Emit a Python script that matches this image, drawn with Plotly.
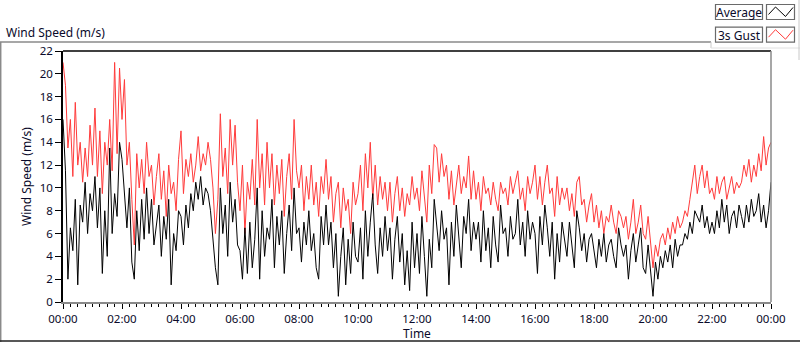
import plotly.graph_objects as go
import pandas as pd

# 5-minute samples, 00:00 .. 24:00
gust = [
 21.0, 19.0, 13.5, 16.0, 11.0, 17.5, 12.0, 14.0, 10.5, 13.5, 11.0, 15.5,
 12.0, 17.0, 11.0, 15.0, 9.5, 14.0, 12.0, 16.0, 11.5, 21.0, 13.0, 20.5,
 16.0, 19.5, 12.0, 14.0, 9.0, 5.0, 13.0, 10.0, 12.5, 9.5, 14.0, 11.0,
 12.0, 8.5, 11.0, 13.0, 9.0, 11.5, 7.5, 12.0, 9.5, 10.5, 8.0, 12.5,
 15.0, 9.5, 12.5, 11.0, 13.0, 10.5, 12.0, 14.5, 11.5, 13.0, 12.0, 14.0,
 12.5, 10.0, 6.0, 9.0, 16.5, 11.0, 13.5, 9.5, 16.0, 12.0, 15.5, 10.5,
 8.0, 12.0, 6.0, 10.5, 9.0, 12.5, 8.5, 16.0, 10.0, 13.0, 8.5, 14.0,
 10.0, 13.0, 8.5, 12.0, 9.5, 12.5, 7.5, 11.0, 13.0, 9.0, 16.0, 11.5,
 10.0, 12.0, 8.0, 11.0, 9.0, 12.0, 8.5, 10.5, 7.5, 11.0, 9.5, 12.5,
 9.0, 11.0, 7.0, 9.5, 10.5, 6.5, 10.0, 8.0, 9.0, 6.0, 10.5, 8.5,
 9.5, 12.0, 8.0, 13.0, 10.0, 14.0, 9.0, 12.0, 8.5, 11.0, 9.0, 10.5,
 8.0, 10.5, 7.0, 9.5, 11.0, 8.0, 10.0, 7.5, 9.5, 8.5, 11.0, 9.0,
 10.0, 8.0, 11.5, 9.0, 7.0, 12.0, 9.5, 13.8, 13.5, 10.5, 13.0, 11.0,
 12.0, 9.0, 11.5, 8.5, 10.5, 12.0, 9.5, 11.0, 10.0, 12.8, 9.0, 11.5,
 9.0, 10.5, 8.0, 11.0, 9.5, 10.0, 8.5, 10.5, 9.0, 8.0, 10.5, 9.5,
 10.0, 8.5, 11.0, 9.5, 10.5, 11.5, 9.0, 10.0, 8.0, 11.0, 9.5, 10.5,
 12.0, 9.0, 11.0, 8.5, 10.5, 12.0, 9.5, 10.0, 7.5, 11.0, 8.5, 10.0,
 9.0, 10.0, 8.0, 9.5, 7.5, 10.5, 11.0, 8.5, 9.0, 7.0, 8.5, 9.5,
 7.0, 8.5, 6.5, 8.0, 6.0, 7.5, 7.0, 8.5, 7.0, 6.0, 8.0, 7.5,
 6.5, 7.5, 5.5, 7.0, 9.0, 6.0, 7.0, 8.5, 6.0, 5.5, 7.5, 5.0,
 3.0, 5.0, 4.0, 5.5, 6.0, 5.0, 6.5, 5.5, 7.0, 6.0, 7.5, 6.5,
 7.0, 8.0, 7.5, 9.0, 10.5, 12.0, 9.5, 11.0, 12.0, 10.0, 11.5, 9.5,
 10.0, 9.0, 11.0, 9.5, 10.5, 11.0, 9.0, 10.0, 11.0, 9.5, 10.5, 10.0,
 10.5, 12.0, 11.0, 12.5, 10.5, 12.0, 11.0, 13.0, 11.5, 14.5, 12.0, 13.5,
 14.0,
]
average = [
 16.0, 11.5, 2.0, 6.5, 4.5, 9.0, 1.5, 8.5, 7.0, 10.5, 6.0, 9.5,
 8.0, 11.0, 6.5, 10.0, 2.5, 8.0, 4.0, 13.5, 6.0, 9.5, 7.5, 14.0,
 12.5, 9.0, 6.5, 10.0, 3.5, 2.0, 8.0, 4.5, 9.0, 5.5, 10.0, 6.0,
 9.0, 5.0, 7.0, 8.5, 4.0, 7.5, 5.5, 9.0, 1.5, 6.0, 4.5, 8.0,
 7.5, 5.0, 8.5, 6.5, 9.5, 8.0, 10.5, 9.0, 11.0, 8.5, 10.0, 9.5,
 8.0, 5.5, 3.0, 1.5, 10.0, 6.0, 8.5, 4.0, 10.5, 7.0, 9.0, 5.0,
 4.5, 2.0, 6.5, 2.5, 7.0, 3.0, 5.5, 10.0, 2.0, 8.0, 4.0, 6.5,
 5.5, 9.0, 3.0, 7.5, 5.0, 8.0, 2.5, 6.0, 8.5, 4.5, 10.0, 6.0,
 6.5, 3.5, 7.0, 5.0, 8.0, 4.5, 6.0, 3.0, 2.0, 7.5, 5.0, 8.5,
 5.0, 7.0, 3.0, 6.0, 0.5, 4.0, 6.5, 1.5, 5.5, 2.5, 7.0, 4.0,
 3.5, 6.5, 2.0, 8.0, 4.0, 7.0, 9.5, 5.0, 2.5, 6.5, 4.0, 7.5,
 4.5, 6.5, 2.0, 5.5, 7.5, 3.5, 6.0, 1.5, 4.5, 1.0, 7.0, 3.0,
 6.0, 2.5, 7.5, 4.0, 0.5, 5.5, 3.0, 9.0, 7.0, 4.5, 8.0, 5.5,
 6.5, 1.5, 7.0, 4.0, 8.5, 5.5, 3.0, 7.5, 6.0, 9.0, 4.5, 7.0,
 5.5, 7.0, 3.5, 8.0, 4.5, 6.5, 3.0, 7.5, 5.0, 3.5, 8.5, 6.0,
 6.5, 4.0, 7.5, 5.5, 6.0, 9.0, 5.0, 7.0, 4.0, 8.0, 5.5, 7.0,
 6.0, 2.5, 7.5, 5.0, 8.5, 6.5, 4.0, 7.0, 2.0, 6.0, 3.5, 7.0,
 5.5, 4.0, 7.0, 5.0, 3.0, 8.0, 6.5, 4.5, 6.0, 3.5, 5.5, 6.0,
 4.5, 3.0, 5.5, 4.0, 6.0, 3.5, 5.0, 5.5, 4.0, 3.0, 6.5, 5.0,
 4.0, 5.0, 2.0, 4.5, 6.0, 3.5, 5.0, 6.5, 3.0, 2.5, 5.0, 3.0,
 0.5, 3.5, 2.0, 4.0, 3.0, 4.5, 3.5, 5.0, 3.0, 5.5, 4.0, 5.0,
 5.0, 6.0, 5.5, 7.0, 6.0, 8.0, 7.5, 7.0, 8.5, 6.5, 7.5, 6.0,
 7.0, 6.0, 8.0, 6.5, 9.0, 7.0, 8.5, 6.0, 7.5, 8.0, 6.5, 8.5,
 7.5, 6.5, 8.5, 7.0, 9.0, 7.5, 8.0, 9.5, 7.0, 8.5, 6.5, 8.0,
 10.5,
]
times = pd.date_range("2000-01-01 00:00", periods=len(gust), freq="5min")
tick_vals = pd.date_range("2000-01-01 00:00", "2000-01-02 00:00", freq="2h")
tick_text = ["00:00", "02:00", "04:00", "06:00", "08:00", "10:00", "12:00",
             "14:00", "16:00", "18:00", "20:00", "22:00", "00:00"]

W, H = 800, 342
L, R, T, B = 63, 771, 51, 302
FONT = "Noto Sans"
TXT = "#0a0a2a"

def px(x):
    return (x - L) / (R - L)

def py(y):
    return (B - y) / (B - T)

fig = go.Figure()
fig.add_trace(go.Scatter(x=times, y=gust, mode="lines", line=dict(color="#ff3b3b", width=1),
                         name="3s Gust", showlegend=False))
fig.add_trace(go.Scatter(x=times, y=average, mode="lines", line=dict(color="#000000", width=1),
                         name="Average", showlegend=False))

shapes = []
# outer panel frame
shapes.append(dict(type="line", xref="paper", yref="paper", x0=px(0), x1=px(711), y0=py(42), y1=py(42),
                   line=dict(color="#8a8a8a", width=1.5)))
shapes.append(dict(type="line", xref="paper", yref="paper", x0=px(0.7), x1=px(0.7), y0=py(42), y1=py(342),
                   line=dict(color="#8a8a8a", width=1.5)))
shapes.append(dict(type="line", xref="paper", yref="paper", x0=px(0), x1=px(800), y0=py(341), y1=py(341),
                   line=dict(color="#202020", width=1.5)))
shapes.append(dict(type="line", xref="paper", yref="paper", x0=px(711), x1=px(711), y0=py(42), y1=py(48),
                   line=dict(color="#c8c8c8", width=1)))
shapes.append(dict(type="line", xref="paper", yref="paper", x0=px(711), x1=px(800), y0=py(48), y1=py(48),
                   line=dict(color="#e0e0e0", width=1)))
shapes.append(dict(type="line", xref="paper", yref="paper", x0=px(799), x1=px(799), y0=py(0), y1=py(60),
                   line=dict(color="#c8c8c8", width=1)))
# plot box
shapes.append(dict(type="line", xref="paper", yref="paper", x0=0, x1=1, y0=1, y1=1,
                   line=dict(color="#000000", width=1.5)))
shapes.append(dict(type="line", xref="paper", yref="paper", x0=1, x1=1, y0=0, y1=1,
                   line=dict(color="#8a8a8a", width=1.5)))
# legend boxes
for i, (label, col) in enumerate([("Average", "#000000"), ("3s Gust", "#ff3b3b")]):
    dy = i * 22.7
    shapes.append(dict(type="rect", xref="paper", yref="paper", x0=px(715.5), x1=px(762.5),
                       y0=py(4.5 + dy), y1=py(19.5 + dy), line=dict(color="#6a6a6a", width=1.2),
                       fillcolor="#ffffff"))
    shapes.append(dict(type="rect", xref="paper", yref="paper", x0=px(766.5), x1=px(794.5),
                       y0=py(4.5 + dy), y1=py(19.5 + dy), line=dict(color="#6a6a6a", width=1.2),
                       fillcolor="#ffffff"))
    pts = [(768.5, 14.5), (775.5, 7.0), (785.5, 16.5), (793.0, 7.5)]
    path = "M " + " L ".join(f"{px(x):.5f},{py(y + dy):.5f}" for x, y in pts)
    shapes.append(dict(type="path", xref="paper", yref="paper", path=path,
                       line=dict(color=col, width=1)))

annotations = [
    dict(text="Wind Speed (m/s)", xref="paper", yref="paper", x=px(4), y=py(32), xanchor="left",
         yanchor="middle", showarrow=False, font=dict(family=FONT, size=12, color=TXT)),
    dict(text="Average", xref="paper", yref="paper", x=px(739), y=py(12.3), xanchor="center",
         yanchor="middle", showarrow=False, font=dict(family=FONT, size=12, color=TXT)),
    dict(text="3s Gust", xref="paper", yref="paper", x=px(739), y=py(35), xanchor="center",
         yanchor="middle", showarrow=False, font=dict(family=FONT, size=12, color=TXT)),
]

fig.update_layout(
    template="none",
    width=W, height=H, autosize=False,
    margin=dict(l=L, r=W - R, t=T, b=H - B, pad=0),
    paper_bgcolor="#ffffff", plot_bgcolor="#ffffff",
    font=dict(family=FONT, size=12, color=TXT),
    shapes=shapes, annotations=annotations, showlegend=False,
    xaxis=dict(
        automargin=False,
        range=[tick_vals[0], tick_vals[-1]], tickvals=tick_vals, ticktext=tick_text,
        showgrid=False, zeroline=False, showline=True, linecolor="#8a8a8a", linewidth=1.5,
        ticks="outside", ticklen=5, tickcolor="#000000", tickwidth=1,
        minor=dict(dtick=15 * 60 * 1000, ticks="outside", ticklen=3, tickcolor="#000000", tickwidth=1,
                   showgrid=False),
        title=dict(text="Time", standoff=4, font=dict(family=FONT, size=12, color=TXT)),
        tickfont=dict(family=FONT, size=11.5, color=TXT),
    ),
    yaxis=dict(
        automargin=False,
        range=[0, 22], tickmode="linear", tick0=0, dtick=2,
        showgrid=False, zeroline=False, showline=True, linecolor="#000000", linewidth=1.5,
        ticks="outside", ticklen=6, tickcolor="#000000", tickwidth=1,
        title=dict(text="Wind Speed (m/s)", standoff=6, font=dict(family=FONT, size=12, color=TXT)),
        tickfont=dict(family=FONT, size=11.5, color=TXT),
    ),
)

fig.write_html("out.html", config={"displayModeBar": False},
               post_script="document.body.style.margin='0';document.body.style.overflow='hidden';")
